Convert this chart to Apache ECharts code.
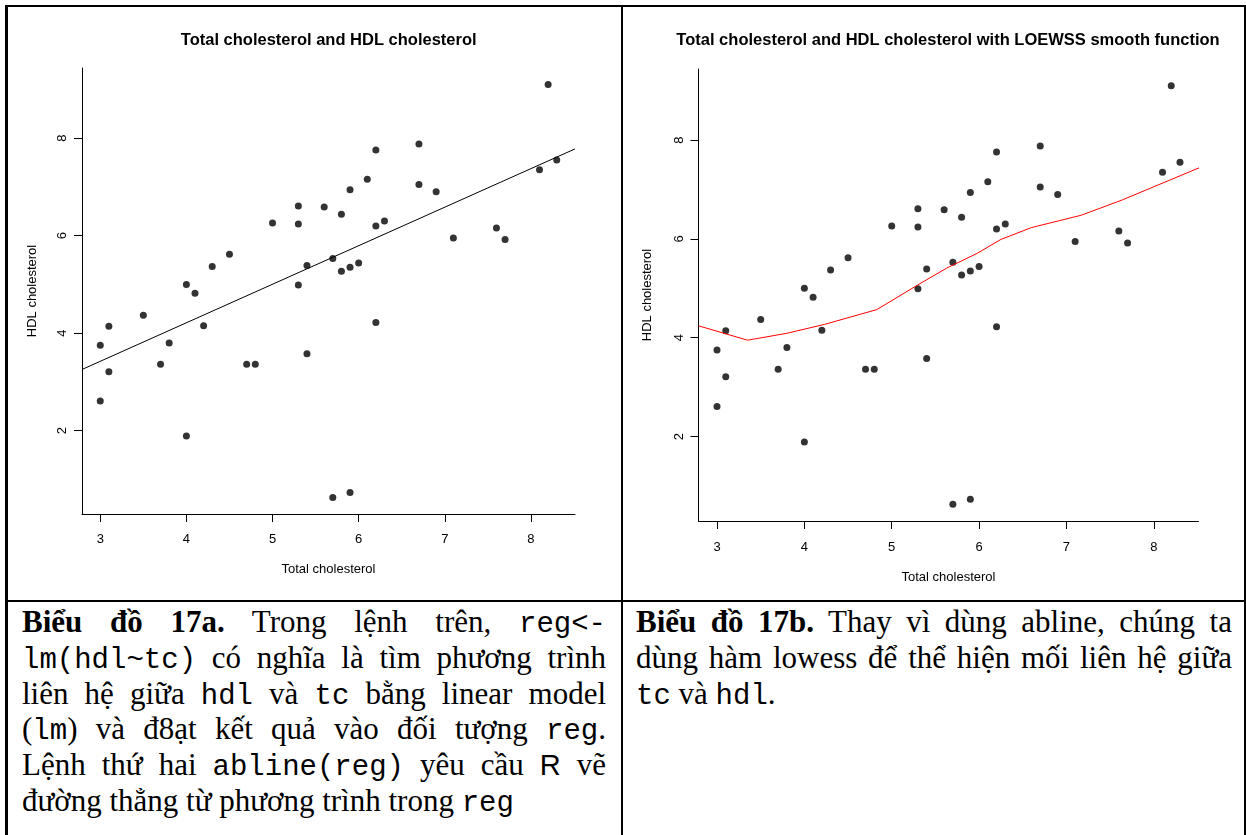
<!DOCTYPE html>
<html>
<head>
<meta charset="utf-8">
<script src="https://cdn.jsdelivr.net/npm/echarts@6/dist/echarts.min.js"></script>
<style>
  html, body { margin: 0; padding: 0; background: #fff; }
  body { width: 1246px; height: 835px; position: relative; overflow: hidden; }
  #chart { position: absolute; left: 0; top: 0; width: 1246px; height: 600px; }
  .rule { position: absolute; background: #000; }
  .cell {
    position: absolute; top: 604px;
    font-family: "Times New Roman", "Liberation Serif", serif;
    font-size: 31px; line-height: 36px; color: #000;
  }
  .cell .ln { height: 35.8px; text-align: justify; text-align-last: justify; }
  .cell .ln.last { text-align: left; text-align-last: left; }
  .cell b { font-weight: bold; }
  .mono { font-family: "Courier New", "Liberation Mono", monospace; font-size: 29px; line-height: 0; }
  .sans { font-family: Arial, "Liberation Sans", sans-serif; font-size: 29px; line-height: 0; }
</style>
</head>
<body>
<div id="chart"></div>

<!-- table rules -->
<div class="rule" style="left:5px;top:5px;width:1241px;height:2px"></div>
<div class="rule" style="left:5px;top:5px;width:2.5px;height:830px"></div>
<div class="rule" style="left:621px;top:5px;width:2px;height:830px"></div>
<div class="rule" style="left:1244px;top:5px;width:2px;height:830px"></div>
<div class="rule" style="left:5px;top:600px;width:1241px;height:2px"></div>

<div class="cell" style="left:22px;width:584px">
  <div class="ln"><b>Biểu đồ 17a.</b> Trong lệnh trên, <span class="mono">reg&lt;-</span></div>
  <div class="ln"><span class="mono">lm(hdl~tc)</span> có nghĩa là tìm phương trình</div>
  <div class="ln">liên hệ giữa <span class="mono">hdl</span> và <span class="mono">tc</span> bằng linear model</div>
  <div class="ln">(<span class="mono">lm</span>) và đ8ạt kết quả vào đối tượng <span class="mono">reg</span>.</div>
  <div class="ln">Lệnh thứ hai <span class="mono">abline(reg)</span> yêu cầu <span class="sans">R</span> vẽ</div>
  <div class="ln last">đường thẳng từ phương trình trong <span class="mono">reg</span></div>
</div>
<div class="cell" style="left:636px;width:596px">
  <div class="ln"><b>Biểu đồ 17b.</b> Thay vì dùng abline, chúng ta</div>
  <div class="ln">dùng hàm lowess để thể hiện mối liên hệ giữa</div>
  <div class="ln last"><span class="mono">tc</span> và <span class="mono">hdl</span>.</div>
</div>

<script>
// total cholesterol / HDL cholesterol
const tc = [8.2, 6.7, 6.2, 8.3, 8.1, 6.1, 6.7, 5.9, 6.9, 5.3, 5.6, 5.8, 5.0, 5.3, 6.3,
  6.2, 7.6, 7.1, 7.7, 4.5, 5.7, 4.3, 5.4, 6.0, 5.9, 5.8, 4.0, 5.3, 4.1, 3.5,
  3.1, 4.2, 6.2, 3.0, 3.8, 3.7, 4.7, 4.8, 5.4, 3.1, 3.0, 4.0, 5.7, 5.9];
const hdl = [9.10, 7.88, 7.76, 7.55, 7.35, 7.16, 7.05, 6.94, 6.90, 6.61, 6.59, 6.44, 6.26, 6.24, 6.30,
  6.20, 6.16, 5.95, 5.92, 5.62, 5.53, 5.37, 5.39, 5.44, 5.35, 5.27, 5.00, 4.99, 4.82, 4.37,
  4.14, 4.15, 4.22, 3.75, 3.80, 3.36, 3.36, 3.36, 3.58, 3.21, 2.61, 1.89, 0.63, 0.73];

// abline(reg) end points at the plot edges
const lmX = [2.788, 8.512];
const lmY = [3.255, 7.78];

// lowess curve vertices
const lowX = [2.79, 3.35, 3.8, 4.23, 4.83, 5.3, 5.63, 5.98, 6.25, 6.6, 7.17, 7.64, 8.52];
const lowY = [4.24, 3.95, 4.09, 4.27, 4.57, 5.07, 5.41, 5.71, 5.99, 6.23, 6.48, 6.79, 7.44];

const xTicks = [3, 4, 5, 6, 7, 8];
const yTicks = [2, 4, 6, 8];
const titles = [
  "Total cholesterol and HDL cholesterol",
  "Total cholesterol and HDL cholesterol with LOEWSS smooth function"
];
const xName = "Total cholesterol";
const yName = "HDL cholesterol";

const FONT = 'Arial, "Liberation Sans", Helvetica, sans-serif';

const pts = tc.map((x, i) => [x, hdl[i]]);
const lmPts = lmX.map((x, i) => [x, lmY[i]]);
const lowPts = lowX.map((x, i) => [x, lowY[i]]);

function xAxis(gi, labelMargin, nameGap) {
  return {
    type: "value", gridIndex: gi, min: 2.788, max: 8.512,
    splitLine: { show: false },
    axisLine: { show: true, onZero: false, lineStyle: { color: "#000", width: 1 } },
    axisTick: { show: true, customValues: xTicks, length: 8, lineStyle: { color: "#000" } },
    axisLabel: { customValues: xTicks, margin: labelMargin, color: "#000", fontSize: 13, fontFamily: FONT },
    name: xName, nameLocation: "middle", nameGap: nameGap,
    nameTextStyle: { color: "#000", fontSize: 13, fontFamily: FONT }
  };
}
function yAxis(gi, labelMargin, nameGap) {
  return {
    type: "value", gridIndex: gi, min: 0.29, max: 9.44,
    splitLine: { show: false },
    axisLine: { show: true, onZero: false, lineStyle: { color: "#000", width: 1 } },
    axisTick: { show: true, customValues: yTicks, length: 8, lineStyle: { color: "#000" } },
    axisLabel: { customValues: yTicks, rotate: 90, margin: labelMargin, color: "#000", fontSize: 13, fontFamily: FONT },
    name: yName, nameLocation: "middle", nameGap: nameGap, nameRotate: 90,
    nameTextStyle: { color: "#000", fontSize: 13, fontFamily: FONT }
  };
}

const chart = echarts.init(document.getElementById("chart"), null, { renderer: "canvas" });
chart.setOption({
  animation: false,
  backgroundColor: "transparent",
  grid: [
    { left: 82, top: 68, width: 493, height: 446, containLabel: false, outerBoundsMode: "none" },
    { left: 698.5, top: 69, width: 500, height: 452, containLabel: false, outerBoundsMode: "none" }
  ],
  graphic: [
    { type: "text", x: 328.7, y: 40, style: { text: titles[0], align: "center", verticalAlign: "middle",
      font: "bold 16.5px " + FONT, fill: "#000" } },
    { type: "text", x: 948, y: 40, style: { text: titles[1], align: "center", verticalAlign: "middle",
      font: "bold 16.5px " + FONT, fill: "#000" } }
  ],
  xAxis: [xAxis(0, 19, 49), xAxis(1, 20, 50)],
  yAxis: [yAxis(0, 13, 43), yAxis(1, 13, 45)],
  series: [
    { type: "scatter", xAxisIndex: 0, yAxisIndex: 0, data: pts, symbol: "circle", symbolSize: 7,
      itemStyle: { color: "#000" }, silent: true },
    { type: "line", xAxisIndex: 0, yAxisIndex: 0, data: lmPts, showSymbol: false,
      lineStyle: { color: "#000", width: 1 }, silent: true },
    { type: "scatter", xAxisIndex: 1, yAxisIndex: 1, data: pts, symbol: "circle", symbolSize: 7,
      itemStyle: { color: "#000" }, silent: true },
    { type: "line", xAxisIndex: 1, yAxisIndex: 1, data: lowPts, showSymbol: false,
      lineStyle: { color: "#ff0000", width: 1 }, silent: true }
  ]
});
</script>
</body>
</html>
